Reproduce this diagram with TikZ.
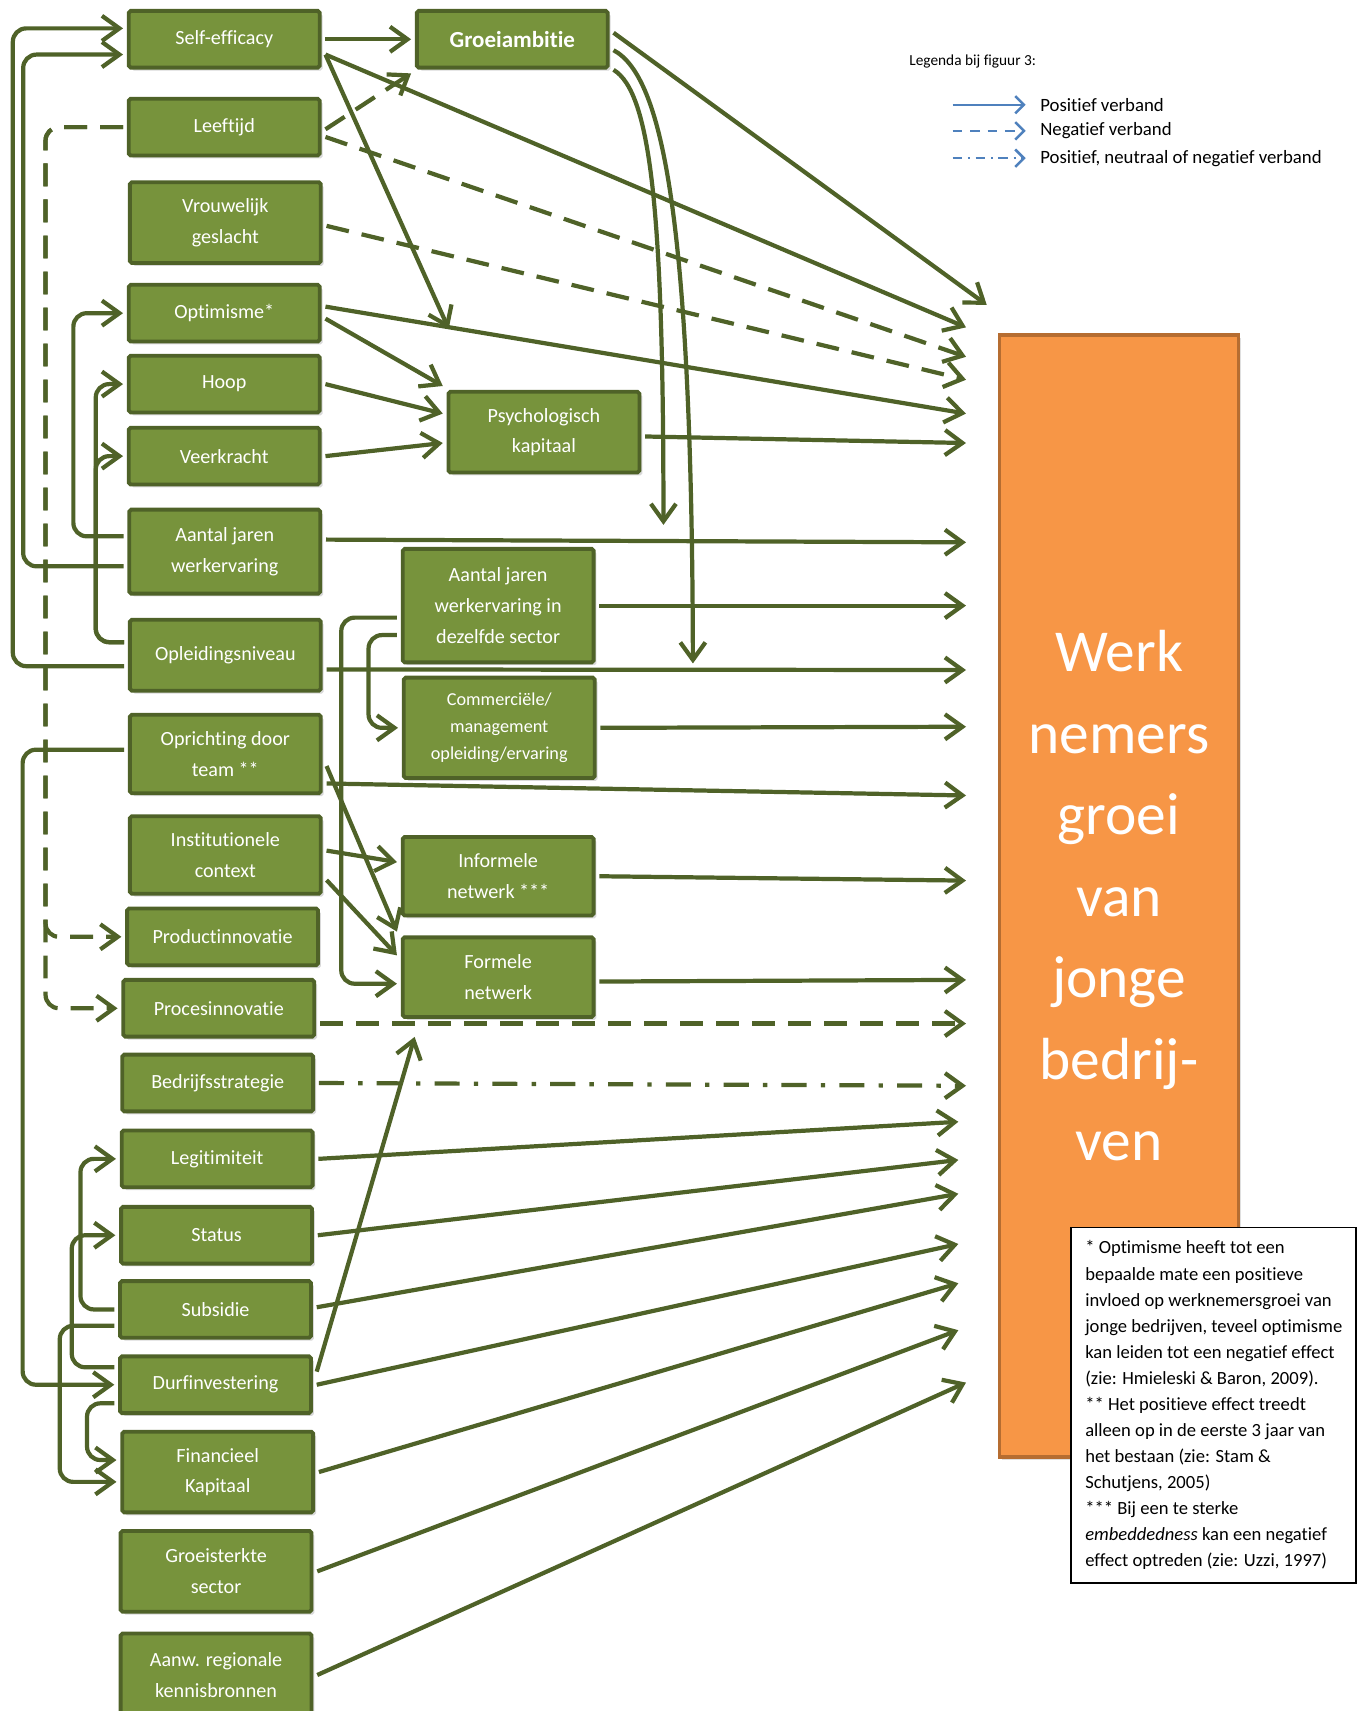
\documentclass[tikz,border=0pt]{standalone}
\usepackage{fontspec}
\setmainfont{Carlito}[Ligatures=NoCommon]
\usetikzlibrary{arrows.meta,positioning,calc,shadows}
\definecolor{Olive}{HTML}{77933C}
\definecolor{OliveDark}{HTML}{4F6228}
\definecolor{Peach}{HTML}{F79646}
\definecolor{Rust}{HTML}{B66D31}
\definecolor{LegBlue}{HTML}{4F81BD}
\tikzset{
  arr/.style={-{Straight Barb[length=3.2mm,width=4.6mm]},line width=2.2pt,draw=OliveDark},
  neg/.style={arr,dash pattern=on 0.42cm off 0.24cm},
  mixed/.style={arr,dash pattern=on 0.46cm off 0.26cm on 0.08cm off 0.26cm},
  bracket/.style={rounded corners=7pt},
  factor/.style={draw=OliveDark,fill=Olive,line width=2pt,rounded corners=1pt,text=white,align=center,minimum width=3.5cm,minimum height=1.04cm,outer sep=3pt,font=\fontsize{10.5}{16}\selectfont,drop shadow={shadow xshift=1.5pt,shadow yshift=-1.5pt,opacity=0.3}},
  legtext/.style={anchor=west,inner sep=0pt,font=\fontsize{9.8}{12}\selectfont},
  legarr/.style={-{Straight Barb[length=1.6mm,width=3.2mm]},line width=1.3pt,draw=LegBlue}
}
\begin{document}
\begin{tikzpicture}[x=0.02cm,y=-0.02cm]
  \useasboundingbox (0,0) rectangle (1243,1568);
  \node[factor] (selfeff) at (205.5,36) {Self-efficacy};
  \node[factor] (leeftijd) at (205.5,116.5) {Leeftijd};
  \node[factor,minimum height=1.48cm] (vrouw) at (206.5,204) {Vrouwelijk\\geslacht};
  \node[factor] (optim) at (205.5,287) {Optimisme*};
  \node[factor] (hoop) at (205.5,352) {Hoop};
  \node[factor] (veerk) at (205.5,418) {Veerkracht};
  \node[factor,minimum height=1.54cm] (aajw) at (206,505.5) {Aantal jaren\\werkervaring};
  \node[factor,minimum height=1.3cm] (opleid) at (206.5,600.5) {Opleidingsniveau};
  \node[factor,minimum height=1.44cm] (opricht) at (206.5,691) {Oprichting door\\team **};
  \node[factor,minimum height=1.42cm] (instit) at (206.5,783.5) {Institutionele\\context};
  \node[factor] (prodinn) at (204,858.5) {Productinnovatie};
  \node[factor] (procinn) at (200.5,924) {Procesinnovatie};
  \node[factor] (strat) at (199.5,992.5) {Bedrijfsstrategie};
  \node[factor] (legit) at (199,1062) {Legitimiteit};
  \node[factor] (status) at (198.5,1132) {Status};
  \node[factor] (subsid) at (197.5,1200) {Subsidie};
  \node[factor] (durf) at (197.5,1269) {Durfinvestering};
  \node[factor,minimum height=1.48cm] (finkap) at (199.5,1349) {Financieel\\Kapitaal};
  \node[factor,minimum height=1.48cm] (groeist) at (198,1440) {Groeisterkte\\sector};
  \node[factor,minimum height=1.52cm] (aanw) at (198,1535) {Aanw. regionale\\kennisbronnen};

  \node[factor,font=\fontsize{12}{16}\selectfont\bfseries] (groei) at (469.5,36) {Groeiambitie};
  \node[factor,minimum height=1.48cm] (psych) at (498.5,396) {Psychologisch\\kapitaal};
  \node[factor,minimum height=2.08cm] (aajs) at (456.5,555) {Aantal jaren\\werkervaring in\\dezelfde sector};
  \node[factor,minimum height=1.84cm,font=\fontsize{9.5}{13.9}\selectfont] (comm) at (457.5,667) {Commerciële/\\management\\opleiding/ervaring};
  \node[factor,minimum height=1.44cm] (inform) at (456.5,803) {Informele\\netwerk ***};
  \node[factor,minimum height=1.46cm] (formeel) at (456.5,895.5) {Formele\\netwerk};

  \node[draw=Rust,fill=Peach,line width=2pt,minimum width=4.38cm,minimum height=20.56cm,text=white,align=center,font=\fontsize{31}{42.5}\selectfont,drop shadow={shadow xshift=1.5pt,shadow yshift=-1.5pt,opacity=0.25}] (werk) at (1025.5,821) {Werk\\nemers\\groei\\van\\jonge\\bedrij-\\ven};
  \coordinate (inlet) at ([xshift=-0.58cm]werk.west);
  \coordinate (dropin) at (608,481);
  \coordinate (dropout) at (635,608);

  \draw[arr] (selfeff) -- (groei);
  \draw[neg] ($(leeftijd.east)+(0,2)$) -- (groei.south west);
  \draw[arr] ($(selfeff.east)+(0,14)$) -- (inlet |- 0,300);
  \draw[arr,shorten >=1.15cm] ($(selfeff.east)+(0,14)$) -- ($(psych.north west)+(29,0)$);
  \draw[arr] ($(groei.east)+(0,-6)$) -- ($(werk.north west)+(-10,-26)$);
  \draw[arr] ($(groei.east)+(0,10)$) .. controls +(45,24) and +(-1,-408) .. (dropout);
  \draw[arr] ($(groei.east)+(0,28)$) .. controls +(35,21) and +(0,-281) .. (dropin);
  \draw[neg] ($(leeftijd.east)+(0,9)$) -- (inlet |- 0,327);
  \draw[neg] ($(vrouw.east)+(0,3)$) -- (inlet |- 0,348);
  \draw[arr] ($(optim.east)+(0,-6)$) -- (inlet |- 0,379);
  \draw[arr] ($(optim.east)+(0,5)$) -- (psych.north west);
  \draw[arr] (hoop.east) -- ($(psych.west)+(0,-17)$);
  \draw[arr] (veerk.east) -- ($(psych.west)+(0,10)$);
  \draw[arr] ($(psych.east)+(0,4)$) -- (inlet |- 0,406);
  \draw[arr] ($(aajw.east)+(0,-11)$) -- (inlet |- 0,497);
  \draw[arr] (aajs.east) -- (inlet |- 0,555);
  \draw[arr] ($(opleid.east)+(0,13)$) -- (inlet |- 0,614);
  \draw[arr] (comm.east) -- (inlet |- 0,666);
  \draw[arr] ($(opricht.east)+(0,27)$) -- (inlet |- 0,729);
  \draw[arr] ($(opricht.east)+(0,11)$) -- (formeel.north west);
  \draw[arr] ($(instit.east)+(0,-4)$) -- ($(inform.west)+(0,-13)$);
  \draw[arr] ($(instit.east)+(0,23)$) -- ($(formeel.west)+(0,-20)$);
  \draw[arr] (inform.east) -- (inlet |- 0,807);
  \draw[arr] ($(formeel.east)+(0,4)$) -- (inlet |- 0,898);
  \draw[neg] ($(procinn.east)+(0,14)$) -- (inlet |- 0,938);
  \draw[mixed] (strat.east) -- (inlet |- 0,995);
  \draw[arr] (legit.east) -- ([xshift=-4]inlet |- 0,1028);
  \draw[arr] (status.east) -- ([xshift=-4]inlet |- 0,1063);
  \draw[arr] ($(subsid.east)+(0,-2)$) -- ([xshift=-4]inlet |- 0,1094);
  \draw[arr] (durf.east) -- ([xshift=-4]inlet |- 0,1140);
  \draw[arr,shorten >=0.27cm] ($(durf.east)+(0,-12)$) -- ($(formeel.south west)+(20,0)$);
  \draw[arr] (finkap.east) -- ([xshift=-4]inlet |- 0,1176);
  \draw[arr] (groeist.east) -- ([xshift=-4]inlet |- 0,1219);
  \draw[arr] (aanw.east) -- (inlet |- 0,1267);

  \draw[arr,bracket] ($(opleid.west)+(0,10)$) -- ++(-102,0) |- ($(selfeff.west)+(0,-10)$);
  \draw[arr,bracket] ($(aajw.west)+(0,13.5)$) -- ++(-92,0) |- ($(selfeff.west)+(0,14)$);
  \draw[arr,bracket] ($(aajw.west)+(0,-14)$) -- ++(-46,0) |- (optim.west);
  \draw[arr,bracket] ($(opleid.west)+(0,-12)$) -- ++(-26,0) |- (hoop.west);
  \draw[arr,bracket] ($(opleid.west)+(0,-12)$) -- ++(-26,0) |- (veerk.west);
  \draw[neg,bracket] (leeftijd.west) -- ++(-71,0) |- (prodinn.west);
  \draw[neg,bracket] (leeftijd.west) -- ++(-71,0) |- (procinn.west);
  \draw[arr,bracket] ($(opricht.west)+(0,-4)$) -- ++(-93,0) |- (durf.west);
  \draw[arr,bracket] (subsid.west) -- ++(-31,0) |- (legit.west);
  \draw[arr,bracket] ($(durf.west)+(0,-16)$) -- ++(-39,0) |- (status.west);
  \draw[arr,bracket] ($(subsid.west)+(0,15)$) -- ++(-50,0) |- ($(finkap.west)+(0,9)$);
  \draw[arr,bracket] ($(durf.west)+(0,17)$) -- ++(-25,0) |- ($(finkap.west)+(0,-11)$);
  \draw[arr,bracket] ($(aajs.west)+(0,11)$) -- ++(-51,0) |- ($(formeel.west)+(0,6)$);
  \draw[arr,bracket] ($(aajs.west)+(0,27)$) -- ++(-26,0) |- (comm.west);

  \node[anchor=west,inner sep=0pt,font=\fontsize{8}{10}\selectfont] (legtitle) at (833,56) {Legenda bij figuur 3:};
  \node[legtext] (lpos) at (953,96) {Positief verband};
  \node[legtext] (lneg) at (953,120) {Negatief verband};
  \node[legtext] (lmix) at (953,145) {Positief, neutraal of negatief verband};
  \draw[legarr] ($(lpos.west)+(-80,0)$) -- ($(lpos.west)+(-13,0)$);
  \draw[legarr,dash pattern=on 0.18cm off 0.14cm] ($(lneg.west)+(-80,0)$) -- ($(lneg.west)+(-13,0)$);
  \draw[legarr,dash pattern=on 0.18cm off 0.1cm on 0.04cm off 0.1cm] ($(lmix.west)+(-80,0)$) -- ($(lmix.west)+(-13,0)$);

  \node[draw=black,fill=white,line width=1pt,anchor=north west,minimum width=5.22cm,minimum height=6.52cm,align=left,font=\fontsize{9.7}{13.6}\selectfont] (note) at (981,1124) {* Optimisme heeft tot een\\
bepaalde mate een positieve\\
invloed op werknemersgroei van\\
jonge bedrijven, teveel optimisme\\
kan leiden tot een negatief effect\\
(zie: Hmieleski \& Baron, 2009).\\{}%
** Het positieve effect treedt\\
alleen op in de eerste 3 jaar van\\
het bestaan (zie: Stam \&\\
Schutjens, 2005)\\{}%
*** Bij een te sterke\\
\textit{embeddedness} kan een negatief\\
effect optreden (zie: Uzzi, 1997)};
\end{tikzpicture}
\end{document}
